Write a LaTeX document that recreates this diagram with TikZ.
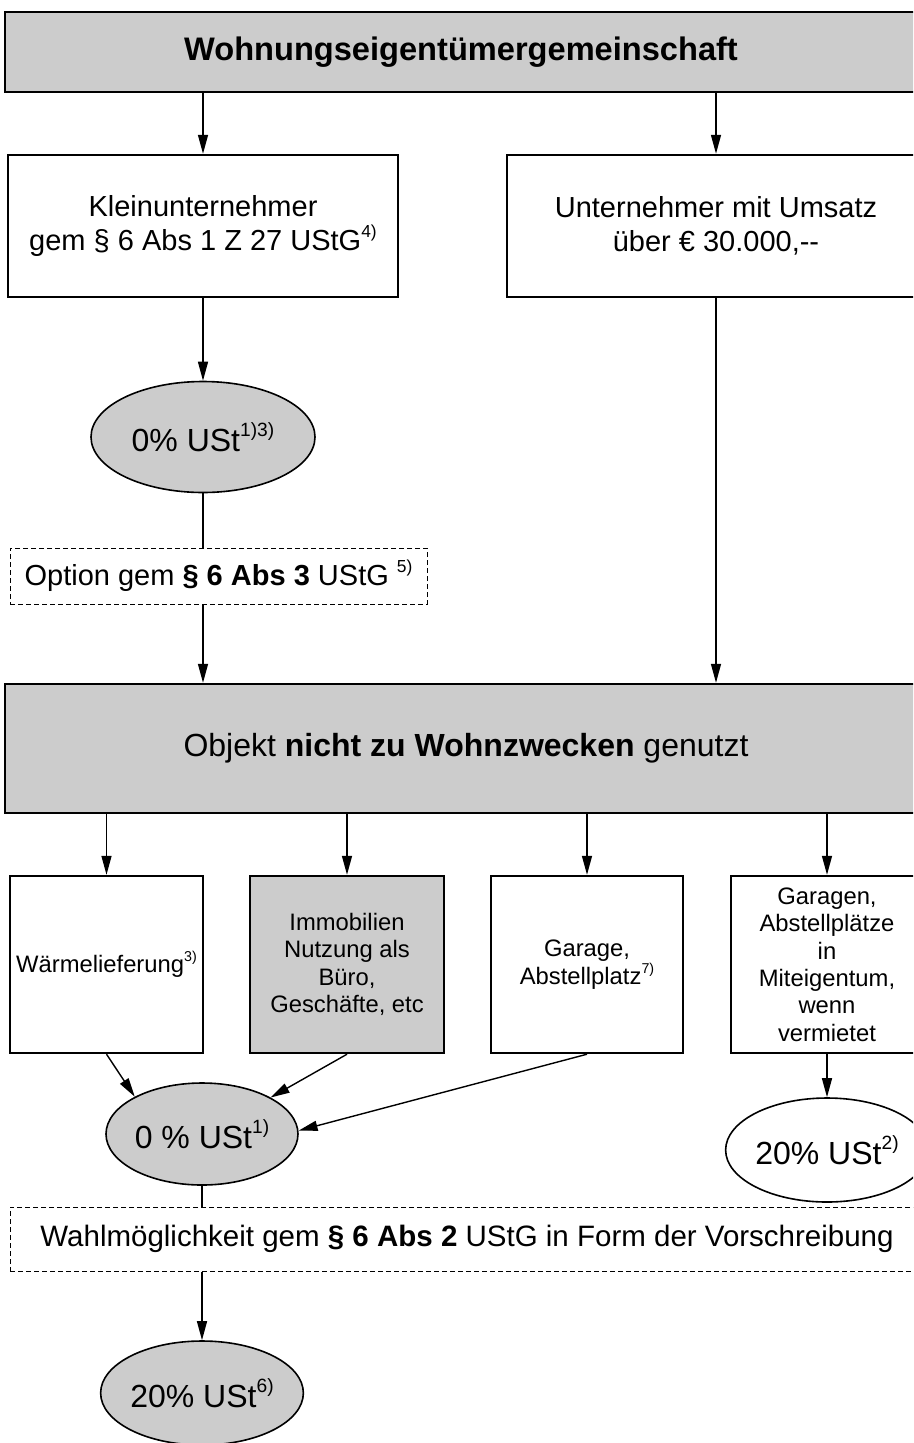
\documentclass[tikz,border=0pt]{standalone}
\usepackage{fontspec}
\setmainfont{Liberation Sans}
\usetikzlibrary{arrows.meta,shapes.geometric}
\newcommand\fnote[1]{\raisebox{0.45em}{\scalebox{0.6}{#1}}}
\begin{document}
\begin{tikzpicture}[x=1pt,y=-1pt,
 box/.style={draw, line width=2.4pt, rectangle, inner sep=0pt, align=center},
 shaded/.style={fill=black!20},
 oval/.style={draw, line width=1.6pt, ellipse, inner sep=0pt, align=center},
 dbox/.style={draw, line width=1pt, rectangle, inner sep=0pt, align=center, dash pattern=on 5pt off 3pt},
 arr/.style={line width=1.4pt, -{Triangle[length=19pt,width=10pt]}},
 ln/.style={line width=1.4pt},
 big/.style={font=\fontsize{32}{37}\selectfont},
 ttl/.style={font=\fontsize{32.6}{37}\selectfont},
 mid/.style={font=\fontsize{29}{34}\selectfont},
 wide/.style={font=\fontsize{29.5}{34}\selectfont},
 sm/.style={font=\fontsize{23.8}{27.4}\selectfont}
]
\useasboundingbox (0,0) rectangle (913,1443);
\clip (0,0) rectangle (913,1443);

\node[box, shaded, ttl, minimum width=912pt, minimum height=80pt] (top) at (461,52) {\textbf{Wohnungseigentümergemeinschaft}};

\node[box, mid, minimum width=390pt, minimum height=142pt] (klein) at (203,226) {Kleinunternehmer\\gem § 6 Abs 1 Z 27 UStG\fnote{4)}};
\node[box, mid, minimum width=418pt, minimum height=142pt] (unt) at (716,226) {Unternehmer mit Umsatz\\über € 30.000,-{}-};

\node[oval, shaded, big, minimum width=224pt, minimum height=111pt] (e1) at (203,437) {0\% USt\fnote{1)3)}};

\node[dbox, mid, minimum width=417pt, minimum height=56pt] (opt) at (218.5,576) {Option gem \textbf{§ 6 Abs 3} UStG \fnote{5)}};

\node[box, shaded, big, minimum width=922pt, minimum height=129pt] (obj) at (466,748.5) {Objekt \textbf{nicht zu Wohnzwecken} genutzt};

\node[box, sm, minimum width=193pt, minimum height=177pt] (b1) at (106.5,964.5) {Wärmelieferung\fnote{3)}};
\node[box, shaded, sm, minimum width=194pt, minimum height=177pt] (b2) at (347,964.5) {Immobilien\\Nutzung als\\Büro,\\Geschäfte, etc};
\node[box, sm, minimum width=192pt, minimum height=177pt] (b3) at (587,964.5) {Garage,\\Abstellplatz\fnote{7)}};
\node[box, sm, minimum width=192pt, minimum height=177pt] (b4) at (827,964.5) {Garagen,\\Abstellplätze\\in\\Miteigentum,\\wenn\\vermietet};

\node[oval, shaded, big, minimum width=192pt, minimum height=102pt] (e2) at (202,1134) {0 \% USt\fnote{1)}};
\node[oval, big, minimum width=194pt, minimum height=104pt] (e3) at (827,1150) {20\% USt\fnote{2)}};

\node[dbox, wide, minimum width=914pt, minimum height=64pt] (wahl) at (467,1239) {Wahlmöglichkeit gem \textbf{§ 6 Abs 2} UStG in Form der Vorschreibung};

\node[oval, shaded, big, minimum width=192pt, minimum height=104pt] (e4) at (202,1393) {20\% USt\fnote{6)}};

% connectors
\draw[arr] (top.south -| klein.north) -- (klein.north);
\draw[arr] (top.south -| unt.north) -- (unt.north);
\draw[arr] (klein.south) -- (e1.north);
\draw[ln] (e1.south) -- (opt.north -| e1.south);
\draw[arr] (opt.south -| e1.south) -- (obj.north -| e1.south);
\draw[arr] (unt.south) -- (obj.north -| unt.south);
\foreach \b in {b1,b2,b3,b4} \draw[arr] (obj.south -| \b.north) -- (\b.north);
\draw[arr] (b1.south) -- (e2.151);
\draw[arr] (b2.south) -- (e2.28);
\draw[arr] (b3.south) -- (e2.2);
\draw[arr] (b4.south) -- (e3.north);
\draw[ln] (e2.south) -- (wahl.north -| e2.south);
\draw[arr] (wahl.south -| e2.south) -- (e4.north);
\end{tikzpicture}
\end{document}
